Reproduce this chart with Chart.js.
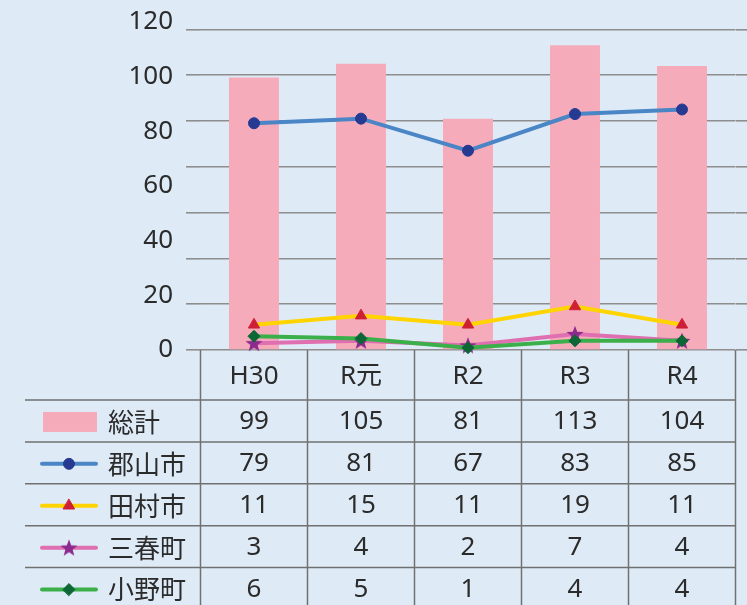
<!DOCTYPE html>
<html>
<head>
<meta charset="utf-8">
<script src="https://cdn.jsdelivr.net/npm/chart.js@4/dist/chart.umd.min.js"></script>
<style>
  html, body { margin: 0; padding: 0; background: #deebf7; }
  #chart { display: block; }
</style>
</head>
<body>
<canvas id="chart" width="747" height="605"></canvas>
<script>
// data
var categories = ['H30', 'R元', 'R2', 'R3', 'R4'];
var total = [99, 105, 81, 113, 104];
var koriyama = [79, 81, 67, 83, 85];
var tamura = [11, 15, 11, 19, 11];
var miharu = [3, 4, 2, 7, 4];
var ono = [6, 5, 1, 4, 4];
var yTicks = [0, 20, 40, 60, 80, 100, 120];

var textColor = '#2b2b2b';
var gridColor = '#8e8e8e';
var tableLine = '#707070';
var numFont = '26px "Noto Sans", "Noto Sans CJK JP"';

// filled five point star used as a point style
function makeStar(color) {
	var c = document.createElement('canvas');
	c.width = 20; c.height = 20;
	var g = c.getContext('2d');
	g.fillStyle = color;
	g.beginPath();
	for (var i = 0; i < 10; i++) {
		var r = i % 2 ? 3.8 : 9;
		var a = -Math.PI / 2 + i * Math.PI / 5;
		g.lineTo(10 + r * Math.cos(a), 10.7 + r * Math.sin(a));
	}
	g.closePath();
	g.fill();
	return c;
}
var star = makeStar('#8c2a8e');

// table under the plot, columns follow the x scale
var tablePlugin = {
	id: 'dataTable',
	afterDraw(chart) {
		var ctx = chart.ctx;
		var area = chart.chartArea;
		var x = chart.scales.x;
		var colW = (area.right - area.left) / categories.length;
		var top = area.bottom;
		var headH = 50, rowH = 41.9;
		var sets = chart.data.datasets;

		ctx.save();
		ctx.strokeStyle = tableLine;
		ctx.lineWidth = 1.5;
		for (var i = 0; i <= categories.length; i++) {
			var px = area.left + i * colW;
			ctx.beginPath(); ctx.moveTo(px, top); ctx.lineTo(px, chart.height); ctx.stroke();
		}
		for (var r = 0; r < sets.length; r++) {
			var py = top + headH + r * rowH;
			ctx.beginPath(); ctx.moveTo(25, py); ctx.lineTo(area.right, py); ctx.stroke();
		}

		ctx.fillStyle = textColor;
		ctx.textAlign = 'center';
		ctx.textBaseline = 'middle';
		ctx.font = numFont;
		categories.forEach(function (c, i) {
			ctx.fillText(c, x.getPixelForValue(i), top + headH / 2 + 2);
		});

		sets.forEach(function (ds, r) {
			var cy = top + headH + r * rowH + rowH / 2 + 1;
			ctx.fillStyle = textColor;
			ctx.textAlign = 'center';
			ctx.font = numFont;
			ds.data.forEach(function (v, i) {
				ctx.fillText(String(v), x.getPixelForValue(i), cy);
			});
			// legend key
			if (ds.type === 'bar') {
				ctx.fillStyle = ds.backgroundColor;
				ctx.fillRect(43, cy - 10, 54, 20);
			} else {
				ctx.strokeStyle = ds.borderColor;
				ctx.lineWidth = ds.borderWidth;
				ctx.lineCap = 'round';
				ctx.beginPath(); ctx.moveTo(42, cy); ctx.lineTo(96, cy); ctx.stroke();
				ctx.fillStyle = ds.pointBackgroundColor;
				ctx.strokeStyle = ds.pointBorderColor;
				ctx.lineWidth = 1;
				Chart.helpers.drawPoint(ctx, {
					pointStyle: ds.pointStyle, radius: ds.pointRadius, rotation: 0, borderWidth: 1
				}, 69, cy);
			}
			ctx.fillStyle = textColor;
			ctx.textAlign = 'left';
			ctx.font = '26px "Noto Sans CJK JP"';
			ctx.fillText(ds.label, 108, cy);
		});
		ctx.restore();
	}
};

var gridMin = -20;
var gridMax = 123.19;
var smallMax = 143.19;

new Chart(document.getElementById('chart'), {
	data: {
		labels: categories,
		datasets: [{
			type: 'bar',
			label: '総計',
			data: total,
			yAxisID: 'yGrid',
			base: gridMin,
			backgroundColor: '#f6abbb',
			borderWidth: 0,
			categoryPercentage: 1,
			barPercentage: 0.467,
			order: 5
		}, {
			type: 'line',
			label: '郡山市',
			data: koriyama,
			yAxisID: 'yGrid',
			borderColor: '#4a85c6',
			borderWidth: 4,
			pointStyle: 'circle',
			pointRadius: 5.5,
			pointBackgroundColor: '#263a92',
			pointBorderColor: '#263a92',
			pointBorderWidth: 1,
			clip: false,
			order: 4
		}, {
			type: 'line',
			label: '田村市',
			data: tamura,
			yAxisID: 'ySmall',
			borderColor: '#ffd400',
			borderWidth: 4,
			pointStyle: 'triangle',
			pointRadius: 6.5,
			pointBackgroundColor: '#cf1f35',
			pointBorderColor: '#cf1f35',
			pointBorderWidth: 1,
			clip: false,
			order: 3
		}, {
			type: 'line',
			label: '三春町',
			data: miharu,
			yAxisID: 'ySmall',
			borderColor: '#df6fb0',
			borderWidth: 4,
			pointStyle: star,
			pointRadius: 7,
			pointBackgroundColor: '#8c2a8e',
			pointBorderColor: '#8c2a8e',
			pointBorderWidth: 1,
			clip: false,
			order: 2
		}, {
			type: 'line',
			label: '小野町',
			data: ono,
			yAxisID: 'ySmall',
			borderColor: '#3bb04a',
			borderWidth: 4,
			pointStyle: 'rectRot',
			pointRadius: 6,
			pointBackgroundColor: '#0d6636',
			pointBorderColor: '#0d6636',
			pointBorderWidth: 1,
			clip: false,
			order: 1
		}]
	},
	options: {
		responsive: false,
		animation: false,
		events: [],
		layout: { padding: { top: 22, bottom: 255, left: 0, right: 0 } },
		plugins: {
			legend: { display: false },
			tooltip: { enabled: false }
		},
		scales: {
			x: {
				type: 'category',
				offset: true,
				display: false
			},
			yLabel: {
				position: 'left',
				weight: 1,
				min: 0,
				max: 120,
				afterBuildTicks: function (s) { s.ticks = yTicks.map(function (v) { return { value: v }; }); },
				afterFit: function (s) { s.width = 186; s.paddingTop = 0; s.paddingBottom = 0; },
				grid: { display: false, drawTicks: false },
				border: { display: false },
				ticks: {
					padding: 13,
					color: textColor,
					font: { family: '"Noto Sans"', size: 26 }
				}
			},
			yGrid: {
				position: 'left',
				weight: 0,
				min: gridMin,
				max: gridMax,
				afterFit: function (s) { s.width = 14.5; },
				grid: { color: gridColor, lineWidth: 1.6, drawTicks: true, tickLength: 14.5 },
				border: { display: false },
				ticks: { display: false, stepSize: 20, includeBounds: false }
			},
			yGridR: {
				position: 'right',
				min: gridMin,
				max: gridMax,
				afterFit: function (s) { s.width = 11.5; },
				grid: { color: gridColor, lineWidth: 1.6, drawOnChartArea: false, drawTicks: true, tickLength: 11.5 },
				border: { display: false },
				ticks: { display: false, stepSize: 20, includeBounds: false }
			},
			ySmall: {
				display: false,
				min: 0,
				max: smallMax
			}
		}
	},
	plugins: [tablePlugin]
});
</script>
</body>
</html>
